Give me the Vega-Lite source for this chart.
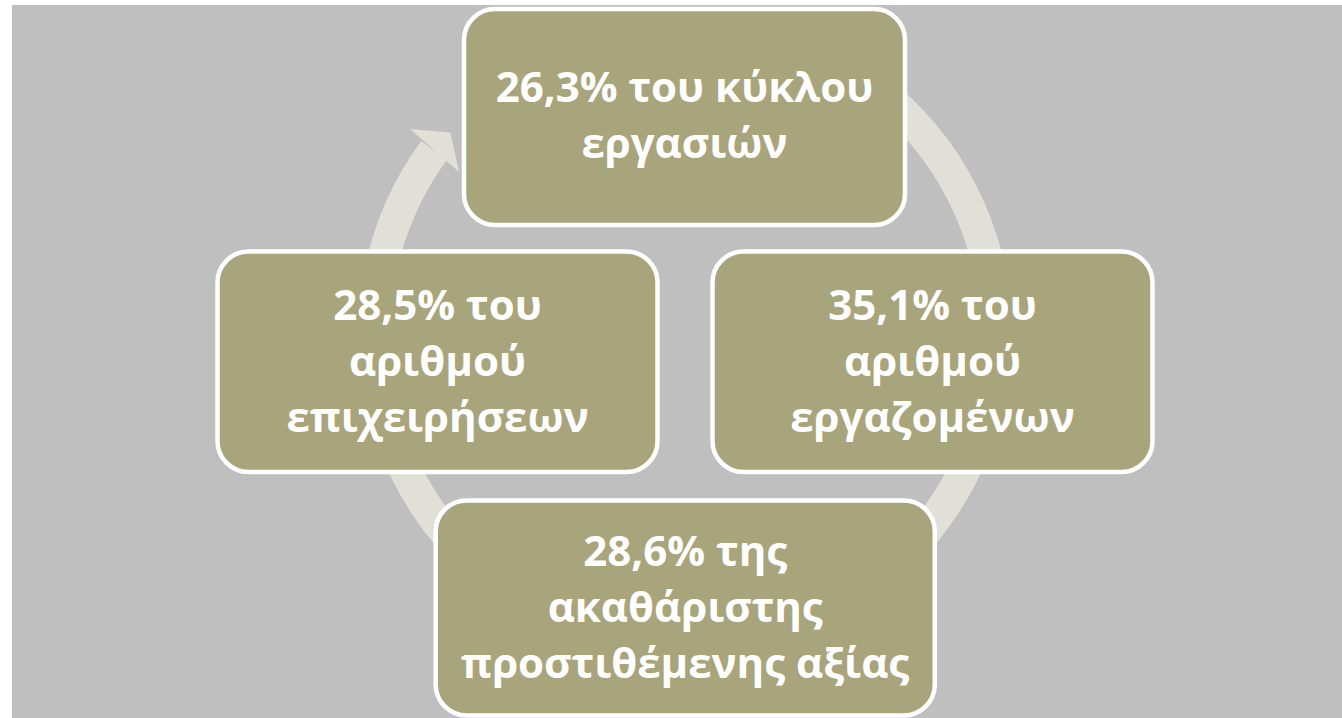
{
  "$schema": "https://vega.github.io/schema/vega-lite/v6.json",
  "width": 1342,
  "height": 718,
  "autosize": {"type": "fit", "contains": "padding"},
  "padding": {"left": 12, "top": 5, "right": 0, "bottom": 0},
  "background": "#FFFFFF",
  "view": {"fill": "#BFBFBF", "stroke": null},
  "datasets": {
    "boxes": [
      {"label": "26,3% του κύκλου\nεργασιών", "x1": 464, "x2": 905, "y1": 9, "y2": 225, "tx": 684.5, "ty": 89},
      {"label": "35,1% του\nαριθμού\nεργαζομένων", "x1": 712.5, "x2": 1152.5, "y1": 251.5, "y2": 472, "tx": 932.5, "ty": 307},
      {"label": "28,6% της\nακαθάριστης\nπροστιθέμενης αξίας", "x1": 435.7, "x2": 934.8, "y1": 500.5, "y2": 715.5, "tx": 685.2, "ty": 553},
      {"label": "28,5% του\nαριθμού\nεπιχειρήσεων", "x1": 217.5, "x2": 657.5, "y1": 251.5, "y2": 472, "tx": 437.5, "ty": 307}
    ],
    "cycle": [{"cx": 685, "cy": 334}],
    "arrow": [{"ax": 434.5, "ay": 150.5}]
  },
  "layer": [
    {
      "data": {"name": "cycle"},
      "mark": {"type": "arc", "radius": 327, "radius2": 295, "theta": 0.05, "theta2": 5.344, "fill": "#E0E0D8", "strokeWidth": 0},
      "encoding": {
        "x": {"field": "cx", "type": "quantitative", "scale": {"domain": [12, 1342], "nice": false, "zero": false}, "axis": null},
        "y": {"field": "cy", "type": "quantitative", "scale": {"domain": [5, 718], "nice": false, "zero": false, "reverse": true}, "axis": null}
      }
    },
    {
      "data": {"name": "arrow"},
      "mark": {"type": "point", "shape": "M -1 0 L 1 0 L 0 -0.74 Z", "size": 4251, "angle": 41.3, "filled": true, "fill": "#E0E0D8", "opacity": 1, "strokeWidth": 0},
      "encoding": {
        "x": {"field": "ax", "type": "quantitative", "axis": null},
        "y": {"field": "ay", "type": "quantitative", "axis": null}
      }
    },
    {
      "data": {"name": "boxes"},
      "mark": {"type": "rect", "cornerRadius": 31, "fill": "#A8A57C", "stroke": "#FFFFFF", "strokeWidth": 4.5},
      "encoding": {
        "x": {"field": "x1", "type": "quantitative", "axis": null},
        "x2": {"field": "x2"},
        "y": {"field": "y1", "type": "quantitative", "axis": null},
        "y2": {"field": "y2"}
      }
    },
    {
      "data": {"name": "boxes"},
      "mark": {"type": "text", "font": "Open Sans", "fontWeight": "bold", "fontSize": 42, "lineHeight": 56, "lineBreak": "\n", "align": "center", "baseline": "middle", "color": "#FFFFFF"},
      "encoding": {
        "x": {"field": "tx", "type": "quantitative", "axis": null},
        "y": {"field": "ty", "type": "quantitative", "axis": null},
        "text": {"field": "label", "type": "nominal"}
      }
    }
  ]
}
